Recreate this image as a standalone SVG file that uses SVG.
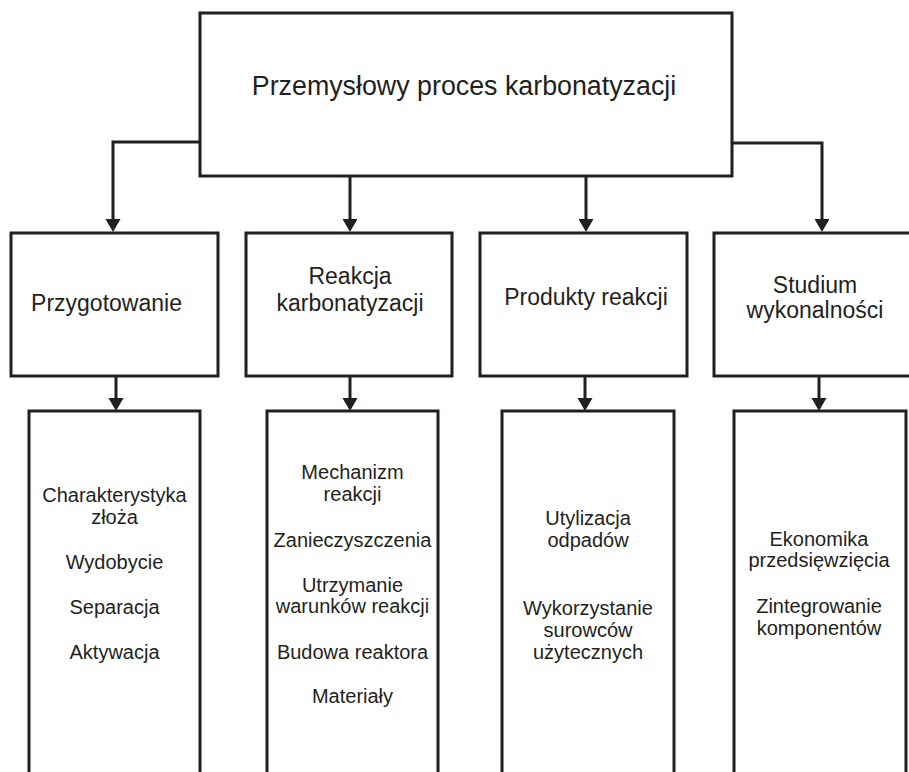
<svg xmlns="http://www.w3.org/2000/svg" width="909" height="772" viewBox="0 0 909 772">
<style>
.box{fill:#fff;stroke:#231f20;stroke-width:3}
.con{fill:none;stroke:#231f20;stroke-width:3}
text{font-family:"Liberation Sans",Arial,sans-serif;fill:#231f20;text-anchor:middle}
.t1{font-size:26.8px}
.t2{font-size:23px}
.t3{font-size:20px}
</style>
<defs>
<marker id="ah" markerUnits="userSpaceOnUse" markerWidth="16" markerHeight="16" refX="2" refY="7.5" orient="auto" viewBox="0 0 16 16">
<path d="M0,0 L13,7.5 L0,15 Z" fill="#231f20"/>
</marker>
</defs>
<rect width="909" height="772" fill="#fff"/>
<g id="connectors">
<path class="con" d="M200,142 H113 V221" marker-end="url(#ah)"/>
<path class="con" d="M350,176 V221" marker-end="url(#ah)"/>
<path class="con" d="M586,176 V221" marker-end="url(#ah)"/>
<path class="con" d="M732,143 H822 V221" marker-end="url(#ah)"/>
<path class="con" d="M116,376 V400" marker-end="url(#ah)"/>
<path class="con" d="M350,376 V400" marker-end="url(#ah)"/>
<path class="con" d="M585,376 V400" marker-end="url(#ah)"/>
<path class="con" d="M819,376 V400" marker-end="url(#ah)"/>
</g>
<g id="root">
<rect class="box" x="200" y="13" width="532" height="163"/>
<text class="t1" x="464" y="95">Przemysłowy proces karbonatyzacji</text>
</g>
<g id="przygotowanie">
<rect class="box" x="11" y="233" width="207" height="143"/>
<text class="t2" x="106.5" y="311">Przygotowanie</text>
</g>
<g id="reakcja">
<rect class="box" x="246" y="233" width="206" height="143"/>
<text class="t2" x="350" y="284">Reakcja</text>
<text class="t2" x="350" y="311">karbonatyzacji</text>
</g>
<g id="produkty">
<rect class="box" x="480" y="233" width="207" height="143"/>
<text class="t2" x="586" y="305">Produkty reakcji</text>
</g>
<g id="studium">
<rect class="box" x="714" y="233" width="220" height="143"/>
<text class="t2" x="815" y="293">Studium</text>
<text class="t2" x="815" y="318">wykonalności</text>
</g>
<g id="przygotowanie-details">
<rect class="box" x="29" y="411" width="171" height="380"/>
<text class="t3" x="114.5" y="502">Charakterystyka</text>
<text class="t3" x="114.5" y="524">złoża</text>
<text class="t3" x="114.5" y="569">Wydobycie</text>
<text class="t3" x="114.5" y="614">Separacja</text>
<text class="t3" x="114.5" y="659">Aktywacja</text>
</g>
<g id="reakcja-details">
<rect class="box" x="267" y="411" width="171" height="380"/>
<text class="t3" x="352.5" y="479">Mechanizm</text>
<text class="t3" x="352.5" y="501">reakcji</text>
<text class="t3" x="352.5" y="547">Zanieczyszczenia</text>
<text class="t3" x="352.5" y="592">Utrzymanie</text>
<text class="t3" x="352.5" y="613">warunków reakcji</text>
<text class="t3" x="352.5" y="659">Budowa reaktora</text>
<text class="t3" x="352.5" y="703">Materiały</text>
</g>
<g id="produkty-details">
<rect class="box" x="502" y="411" width="172" height="380"/>
<text class="t3" x="588" y="525">Utylizacja</text>
<text class="t3" x="588" y="547">odpadów</text>
<text class="t3" x="588" y="615">Wykorzystanie</text>
<text class="t3" x="588" y="637">surowców</text>
<text class="t3" x="588" y="659">użytecznych</text>
</g>
<g id="studium-details">
<rect class="box" x="734" y="411" width="172" height="380"/>
<text class="t3" x="819" y="546">Ekonomika</text>
<text class="t3" x="819" y="567">przedsięwzięcia</text>
<text class="t3" x="819" y="613">Zintegrowanie</text>
<text class="t3" x="819" y="635">komponentów</text>
</g>
</svg>
